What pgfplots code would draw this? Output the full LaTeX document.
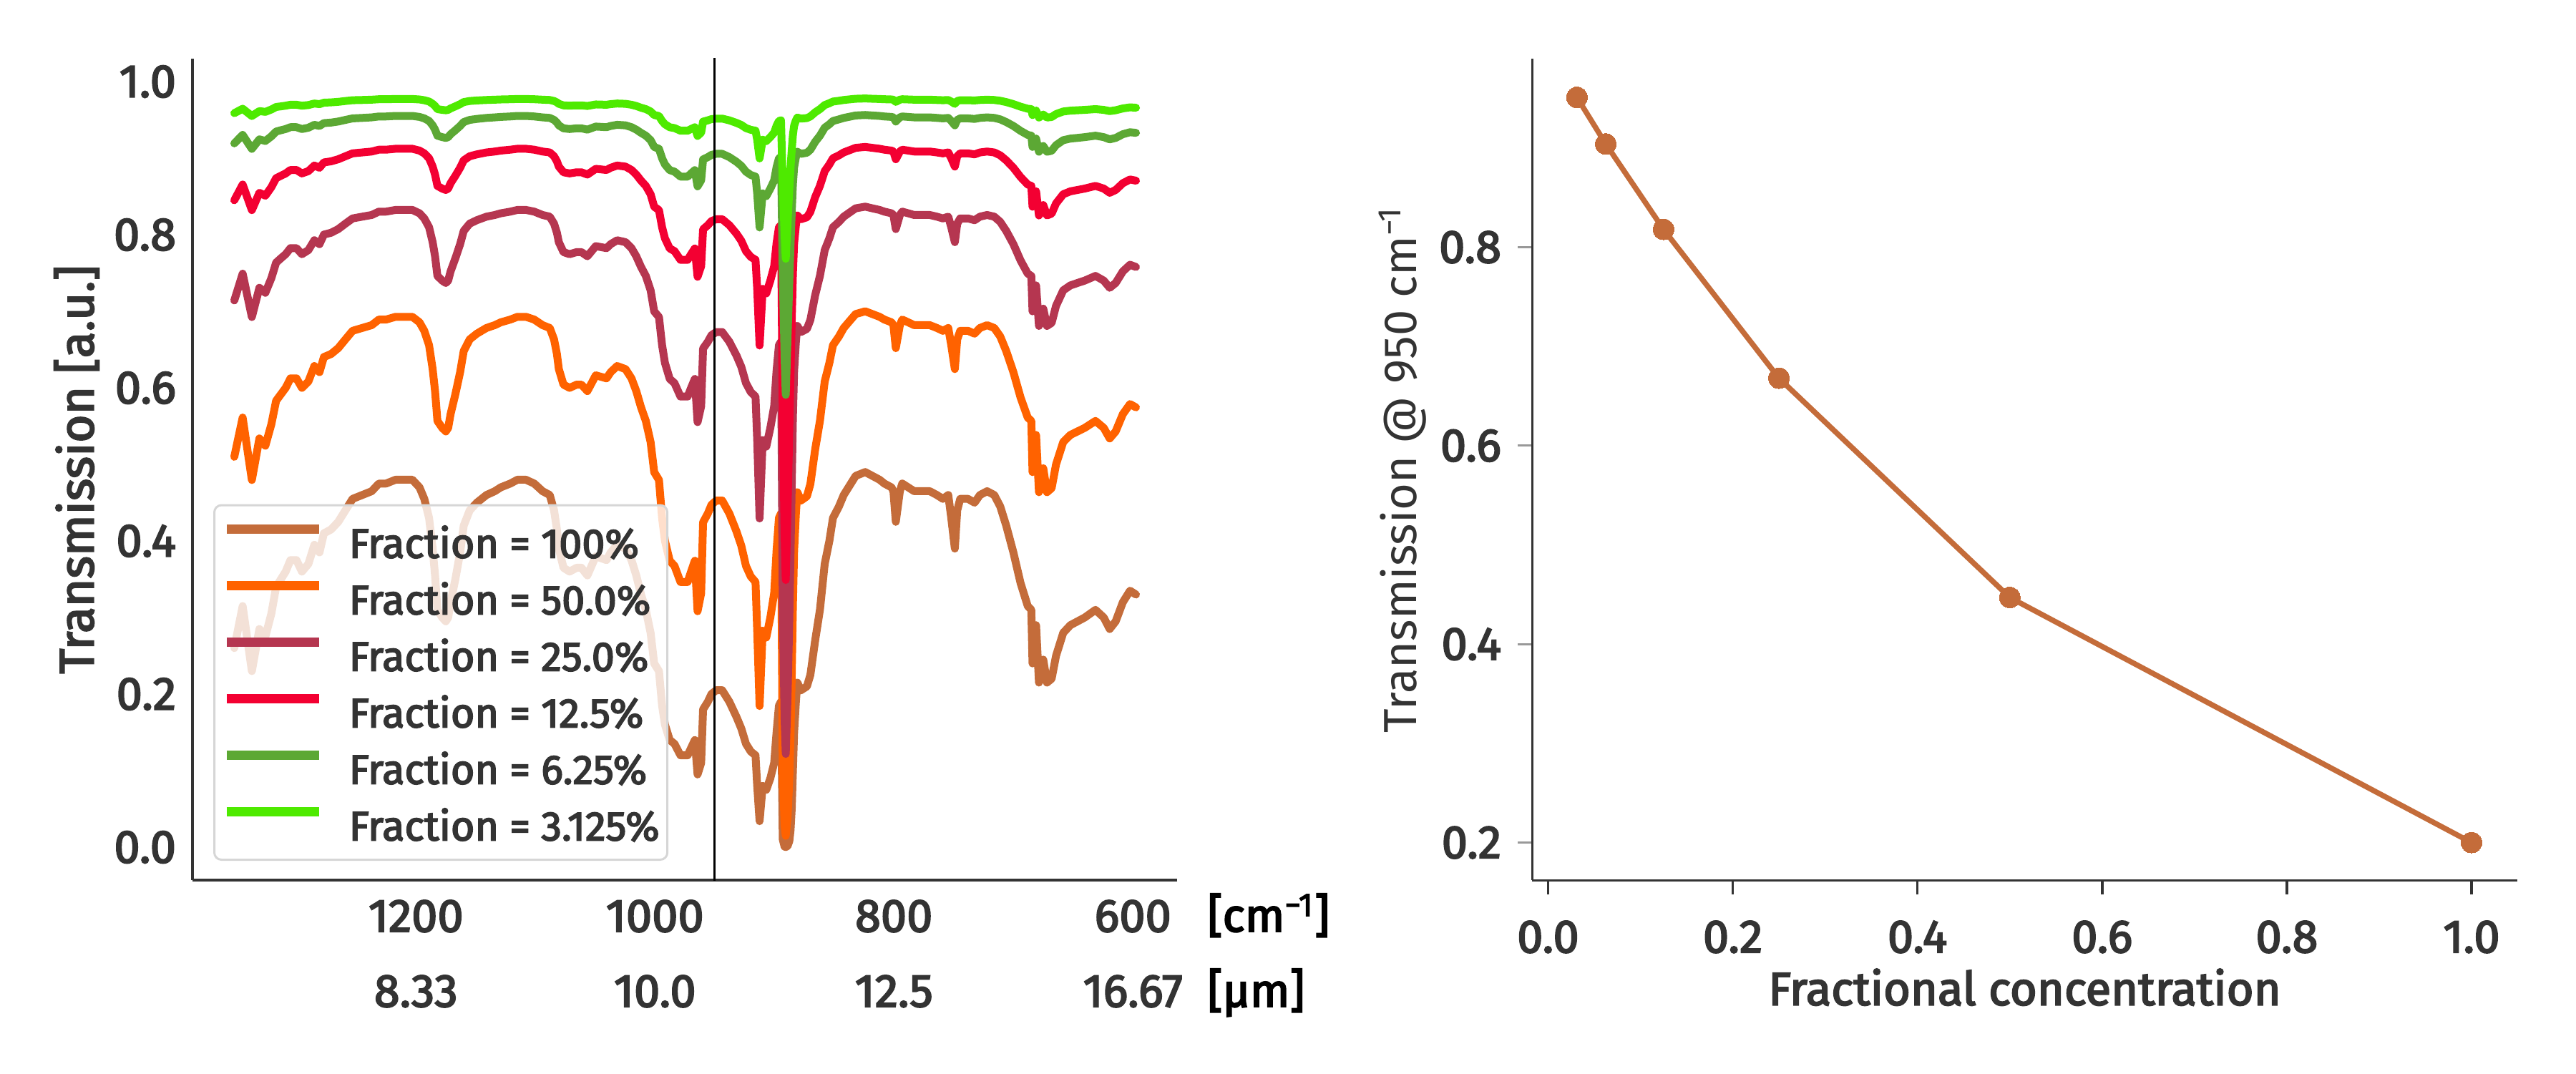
\documentclass[border=0pt]{standalone}
\usepackage{fontspec}
\setmainfont{Fira Sans}[FakeBold=3]
\newfontfamily\regfont{Fira Sans}
\usepackage{pgfplots}
\usepackage{pgfplotstable}
\pgfplotsset{compat=1.18}

\definecolor{c100}{HTML}{C46C3A}
\definecolor{c50}{HTML}{FF6200}
\definecolor{c25}{HTML}{B53650}
\definecolor{c12}{HTML}{F30032}
\definecolor{c6}{HTML}{5CA834}
\definecolor{c3}{HTML}{4EEA00}
\definecolor{txt}{HTML}{333333}

\pgfplotstableread{
w t100 t50 t25 t12 t6 t3
1352.0 0.260 0.5099 0.7141 0.8450 0.9193 0.9588
1345.0 0.315 0.5612 0.7492 0.8656 0.9304 0.9646
1337.3 0.230 0.4796 0.6925 0.8322 0.9122 0.9551
1331.0 0.285 0.5339 0.7307 0.8548 0.9246 0.9615
1326.0 0.275 0.5244 0.7242 0.8510 0.9225 0.9605
1321.0 0.305 0.5523 0.7432 0.8621 0.9285 0.9636
1317.0 0.340 0.5831 0.7636 0.8739 0.9348 0.9669
1313.0 0.350 0.5916 0.7692 0.8770 0.9365 0.9677
1309.0 0.360 0.6000 0.7746 0.8801 0.9381 0.9686
1305.0 0.375 0.6124 0.7825 0.8846 0.9405 0.9698
1300.0 0.375 0.6124 0.7825 0.8846 0.9405 0.9698
1295.4 0.360 0.6000 0.7746 0.8801 0.9381 0.9686
1290.0 0.370 0.6083 0.7799 0.8831 0.9398 0.9694
1285.0 0.395 0.6285 0.7928 0.8904 0.9436 0.9714
1280.7 0.385 0.6205 0.7877 0.8875 0.9421 0.9706
1277.0 0.410 0.6403 0.8002 0.8945 0.9458 0.9725
1271.0 0.415 0.6442 0.8026 0.8959 0.9465 0.9729
1265.0 0.425 0.6519 0.8074 0.8986 0.9479 0.9736
1259.0 0.440 0.6633 0.8145 0.9025 0.9500 0.9747
1253.0 0.455 0.6745 0.8213 0.9063 0.9520 0.9757
1245.0 0.460 0.6782 0.8236 0.9075 0.9526 0.9760
1237.0 0.465 0.6819 0.8258 0.9087 0.9533 0.9764
1231.0 0.475 0.6892 0.8302 0.9111 0.9545 0.9770
1225.0 0.475 0.6892 0.8302 0.9111 0.9545 0.9770
1217.0 0.480 0.6928 0.8324 0.9123 0.9552 0.9773
1209.0 0.480 0.6928 0.8324 0.9123 0.9552 0.9773
1203.0 0.480 0.6928 0.8324 0.9123 0.9552 0.9773
1197.0 0.470 0.6856 0.8280 0.9099 0.9539 0.9767
1193.0 0.455 0.6745 0.8213 0.9063 0.9520 0.9757
1189.0 0.430 0.6557 0.8098 0.8999 0.9486 0.9740
1186.0 0.390 0.6245 0.7903 0.8890 0.9429 0.9710
1184.0 0.355 0.5958 0.7719 0.8786 0.9373 0.9682
1182.0 0.310 0.5568 0.7462 0.8638 0.9294 0.9641
1178.0 0.300 0.5477 0.7401 0.8603 0.9275 0.9631
1175.0 0.295 0.5431 0.7370 0.8585 0.9265 0.9626
1173.0 0.300 0.5477 0.7401 0.8603 0.9275 0.9631
1171.0 0.320 0.5657 0.7521 0.8673 0.9313 0.9650
1167.0 0.350 0.5916 0.7692 0.8770 0.9365 0.9677
1163.0 0.385 0.6205 0.7877 0.8875 0.9421 0.9706
1160.0 0.420 0.6481 0.8050 0.8972 0.9472 0.9733
1155.0 0.440 0.6633 0.8145 0.9025 0.9500 0.9747
1149.0 0.450 0.6708 0.8190 0.9050 0.9513 0.9754
1141.0 0.460 0.6782 0.8236 0.9075 0.9526 0.9760
1134.0 0.465 0.6819 0.8258 0.9087 0.9533 0.9764
1129.0 0.470 0.6856 0.8280 0.9099 0.9539 0.9767
1121.0 0.475 0.6892 0.8302 0.9111 0.9545 0.9770
1115.0 0.480 0.6928 0.8324 0.9123 0.9552 0.9773
1108.0 0.480 0.6928 0.8324 0.9123 0.9552 0.9773
1101.0 0.475 0.6892 0.8302 0.9111 0.9545 0.9770
1094.0 0.465 0.6819 0.8258 0.9087 0.9533 0.9764
1088.0 0.460 0.6782 0.8236 0.9075 0.9526 0.9760
1084.4 0.440 0.6633 0.8145 0.9025 0.9500 0.9747
1082.0 0.415 0.6442 0.8026 0.8959 0.9465 0.9729
1080.4 0.390 0.6245 0.7903 0.8890 0.9429 0.9710
1076.5 0.365 0.6042 0.7773 0.8816 0.9390 0.9690
1071.4 0.360 0.6000 0.7746 0.8801 0.9381 0.9686
1065.5 0.365 0.6042 0.7773 0.8816 0.9390 0.9690
1061.5 0.365 0.6042 0.7773 0.8816 0.9390 0.9690
1056.5 0.355 0.5958 0.7719 0.8786 0.9373 0.9682
1049.5 0.380 0.6164 0.7851 0.8861 0.9413 0.9702
1040.5 0.375 0.6124 0.7825 0.8846 0.9405 0.9698
1037.0 0.385 0.6205 0.7877 0.8875 0.9421 0.9706
1031.6 0.395 0.6285 0.7928 0.8904 0.9436 0.9714
1024.6 0.390 0.6245 0.7903 0.8890 0.9429 0.9710
1019.6 0.375 0.6124 0.7825 0.8846 0.9405 0.9698
1015.6 0.355 0.5958 0.7719 0.8786 0.9373 0.9682
1011.6 0.330 0.5745 0.7579 0.8706 0.9331 0.9659
1007.6 0.310 0.5568 0.7462 0.8638 0.9294 0.9641
1003.6 0.280 0.5292 0.7274 0.8529 0.9235 0.9610
1000.6 0.240 0.4899 0.6999 0.8366 0.9147 0.9564
996.6 0.230 0.4796 0.6925 0.8322 0.9122 0.9551
994.0 0.185 0.4301 0.6558 0.8098 0.8999 0.9486
991.6 0.160 0.4000 0.6325 0.7953 0.8918 0.9443
987.6 0.140 0.3742 0.6117 0.7821 0.8844 0.9404
983.6 0.135 0.3674 0.6062 0.7786 0.8824 0.9393
978.6 0.120 0.3464 0.5886 0.7672 0.8759 0.9359
972.6 0.120 0.3464 0.5886 0.7672 0.8759 0.9359
969.6 0.130 0.3606 0.6005 0.7749 0.8803 0.9382
966.6 0.140 0.3742 0.6117 0.7821 0.8844 0.9404
964.3 0.095 0.3082 0.5552 0.7451 0.8632 0.9291
961.3 0.110 0.3317 0.5759 0.7589 0.8711 0.9334
959.7 0.180 0.4243 0.6514 0.8071 0.8984 0.9478
955.7 0.190 0.4359 0.6602 0.8125 0.9014 0.9494
952.7 0.200 0.4472 0.6687 0.8178 0.9043 0.9510
948.7 0.205 0.4528 0.6729 0.8203 0.9057 0.9517
943.7 0.205 0.4528 0.6729 0.8203 0.9057 0.9517
937.7 0.190 0.4359 0.6602 0.8125 0.9014 0.9494
931.7 0.170 0.4123 0.6421 0.8013 0.8952 0.9461
927.7 0.155 0.3937 0.6275 0.7921 0.8900 0.9434
923.8 0.135 0.3674 0.6062 0.7786 0.8824 0.9393
919.8 0.125 0.3536 0.5946 0.7711 0.8781 0.9371
915.8 0.120 0.3464 0.5886 0.7672 0.8759 0.9359
914.4 0.080 0.2828 0.5318 0.7293 0.8540 0.9241
912.4 0.034 0.1844 0.4294 0.6553 0.8095 0.8997
909.8 0.080 0.2828 0.5318 0.7293 0.8540 0.9241
906.8 0.075 0.2739 0.5233 0.7234 0.8505 0.9223
903.4 0.090 0.3000 0.5477 0.7401 0.8603 0.9275
900.2 0.110 0.3317 0.5759 0.7589 0.8711 0.9334
898.2 0.150 0.3873 0.6223 0.7889 0.8882 0.9424
896.2 0.185 0.4301 0.6558 0.8098 0.8999 0.9486
894.5 0.190 0.4359 0.6602 0.8125 0.9014 0.9494
893.0 0.010 0.1000 0.3162 0.5623 0.7499 0.8660
891.5 0.0008 0.0283 0.1682 0.4101 0.6404 0.8002
890.5 0.00022 0.0148 0.1218 0.3490 0.5908 0.7686
889.0 0.0015 0.0387 0.1968 0.4436 0.6661 0.8161
887.5 0.008 0.0894 0.2991 0.5469 0.7395 0.8600
886.5 0.022 0.1483 0.3851 0.6206 0.7878 0.8876
885.5 0.050 0.2236 0.4729 0.6877 0.8293 0.9106
884.5 0.100 0.3162 0.5623 0.7499 0.8660 0.9306
883.5 0.150 0.3873 0.6223 0.7889 0.8882 0.9424
882.0 0.190 0.4359 0.6602 0.8125 0.9014 0.9494
880.8 0.215 0.4637 0.6809 0.8252 0.9084 0.9531
877.8 0.205 0.4528 0.6729 0.8203 0.9057 0.9517
872.8 0.210 0.4583 0.6770 0.8228 0.9071 0.9524
869.9 0.225 0.4743 0.6887 0.8299 0.9110 0.9545
865.9 0.270 0.5196 0.7209 0.8490 0.9214 0.9599
861.9 0.310 0.5568 0.7462 0.8638 0.9294 0.9641
857.9 0.370 0.6083 0.7799 0.8831 0.9398 0.9694
854.0 0.400 0.6325 0.7953 0.8918 0.9443 0.9718
851.0 0.430 0.6557 0.8098 0.8999 0.9486 0.9740
846.0 0.445 0.6671 0.8168 0.9037 0.9507 0.9750
842.0 0.460 0.6782 0.8236 0.9075 0.9526 0.9760
836.0 0.475 0.6892 0.8302 0.9111 0.9545 0.9770
832.0 0.485 0.6964 0.8345 0.9135 0.9558 0.9776
824.0 0.490 0.7000 0.8367 0.9147 0.9564 0.9780
818.0 0.485 0.6964 0.8345 0.9135 0.9558 0.9776
812.0 0.480 0.6928 0.8324 0.9123 0.9552 0.9773
808.0 0.475 0.6892 0.8302 0.9111 0.9545 0.9770
802.0 0.470 0.6856 0.8280 0.9099 0.9539 0.9767
800.4 0.465 0.6819 0.8258 0.9087 0.9533 0.9764
798.4 0.425 0.6519 0.8074 0.8986 0.9479 0.9736
795.0 0.465 0.6819 0.8258 0.9087 0.9533 0.9764
793.0 0.475 0.6892 0.8302 0.9111 0.9545 0.9770
788.0 0.470 0.6856 0.8280 0.9099 0.9539 0.9767
783.0 0.465 0.6819 0.8258 0.9087 0.9533 0.9764
776.0 0.465 0.6819 0.8258 0.9087 0.9533 0.9764
770.0 0.465 0.6819 0.8258 0.9087 0.9533 0.9764
764.0 0.460 0.6782 0.8236 0.9075 0.9526 0.9760
759.0 0.455 0.6745 0.8213 0.9063 0.9520 0.9757
754.5 0.460 0.6782 0.8236 0.9075 0.9526 0.9760
752.0 0.430 0.6557 0.8098 0.8999 0.9486 0.9740
749.0 0.390 0.6245 0.7903 0.8890 0.9429 0.9710
747.0 0.440 0.6633 0.8145 0.9025 0.9500 0.9747
744.5 0.455 0.6745 0.8213 0.9063 0.9520 0.9757
738.0 0.455 0.6745 0.8213 0.9063 0.9520 0.9757
732.5 0.450 0.6708 0.8190 0.9050 0.9513 0.9754
728.0 0.460 0.6782 0.8236 0.9075 0.9526 0.9760
722.0 0.465 0.6819 0.8258 0.9087 0.9533 0.9764
716.0 0.460 0.6782 0.8236 0.9075 0.9526 0.9760
711.0 0.445 0.6671 0.8168 0.9037 0.9507 0.9750
706.0 0.420 0.6481 0.8050 0.8972 0.9472 0.9733
700.0 0.385 0.6205 0.7877 0.8875 0.9421 0.9706
694.0 0.345 0.5874 0.7664 0.8754 0.9357 0.9673
688.0 0.315 0.5612 0.7492 0.8656 0.9304 0.9646
685.0 0.310 0.5568 0.7462 0.8638 0.9294 0.9641
684.0 0.240 0.4899 0.6999 0.8366 0.9147 0.9564
681.0 0.290 0.5385 0.7338 0.8567 0.9256 0.9621
678.6 0.215 0.4637 0.6809 0.8252 0.9084 0.9531
675.0 0.245 0.4950 0.7035 0.8388 0.9159 0.9570
671.9 0.215 0.4637 0.6809 0.8252 0.9084 0.9531
668.0 0.220 0.4690 0.6849 0.8276 0.9097 0.9538
664.3 0.250 0.5000 0.7071 0.8409 0.9170 0.9576
658.3 0.280 0.5292 0.7274 0.8529 0.9235 0.9610
652.3 0.290 0.5385 0.7338 0.8567 0.9256 0.9621
646.3 0.295 0.5431 0.7370 0.8585 0.9265 0.9626
640.3 0.300 0.5477 0.7401 0.8603 0.9275 0.9631
631.3 0.310 0.5568 0.7462 0.8638 0.9294 0.9641
624.4 0.300 0.5477 0.7401 0.8603 0.9275 0.9631
619.4 0.285 0.5339 0.7307 0.8548 0.9246 0.9615
614.4 0.295 0.5431 0.7370 0.8585 0.9265 0.9626
608.4 0.320 0.5657 0.7521 0.8673 0.9313 0.9650
602.4 0.335 0.5788 0.7608 0.8722 0.9339 0.9664
597.4 0.330 0.5745 0.7579 0.8706 0.9331 0.9659
}\spec

\pgfplotstableread{
f t
0.03125 0.951
0.0625 0.904
0.125 0.818
0.25 0.668
0.5 0.447
1.0 0.200
}\conc

\newcommand{\tfont}{\fontsize{13}{15.6}\selectfont}

\begin{document}
\begin{tikzpicture}
\useasboundingbox (0,0) rectangle (720pt,300pt);

\begin{axis}[
  at={(53.8pt,54pt)}, anchor=south west,
  scale only axis, width=275.2pt, height=229.6pt,
  x dir=reverse, xmin=563, xmax=1387, ymin=-0.043, ymax=1.03,
  axis x line*=bottom, axis y line*=left,
  axis line style={draw=txt, line width=0.7pt, -},
  major tick length=0pt,
  xtick={1200,1000,800,600}, xticklabels={1200,1000,800,600},
  extra x ticks={1200,1000,800,600},
  extra x tick labels={8.33,10.0,12.5,16.67},
  extra x tick style={xticklabel style={yshift=-21pt}},
  ytick={0,0.2,0.4,0.6,0.8,1.0},
  tick label style={font=\tfont, text=txt},
  xticklabel style={anchor=north, inner sep=0pt, yshift=-5.4pt},
  yticklabel style={anchor=east, inner sep=0pt, xshift=-4.4pt,
    /pgf/number format/fixed, /pgf/number format/fixed zerofill,
    /pgf/number format/precision=1, /pgf/number format/assume math mode=true},
  ylabel={Transmission [a.u.]},
  ylabel style={at={(axis description cs:-0.1177,0.5)}, anchor=center, font=\fontsize{13.5}{16}\selectfont, text=txt},
  legend style={at={(axis description cs:0.0211,0.0235)}, anchor=south west,
    fill=white, fill opacity=0.8, draw opacity=1, text opacity=1,
    draw=black!16, line width=0.6pt, rounded corners=2pt,
    font=\fontsize{11.5}{13.8}\selectfont, text=txt,
    inner xsep=2.2pt, inner ysep=5.4pt, row sep=6.5pt,
    nodes={inner sep=0pt, text height=8.5pt, text depth=0pt},
    /tikz/every odd column/.append style={column sep=7.15pt}},
  legend cell align=left,
  legend image code/.code={\draw[#1, line width=2.5pt, line cap=butt] (0pt,3.8pt) -- (25.8pt,3.8pt);},
  every axis plot/.append style={line width=2.2pt, line join=round, line cap=round},
]
\addplot[c100] table[x=w,y=t100]{\spec};
\addlegendentry{Fraction = 100\%}
\addplot[c50] table[x=w,y=t50]{\spec};
\addlegendentry{Fraction = 50.0\%}
\addplot[c25] table[x=w,y=t25]{\spec};
\addlegendentry{Fraction = 25.0\%}
\addplot[c12] table[x=w,y=t12]{\spec};
\addlegendentry{Fraction = 12.5\%}
\addplot[c6] table[x=w,y=t6]{\spec};
\addlegendentry{Fraction = 6.25\%}
\addplot[c3] table[x=w,y=t3]{\spec};
\addlegendentry{Fraction = 3.125\%}
\addplot[black, line width=0.6pt, line cap=butt, forget plot] coordinates {(950,-0.06) (950,1.05)};
\end{axis}

\node[anchor=base west, font=\tfont, text=black] at (334pt,39.6pt) {[cm\textsuperscript{−1}]};
\node[anchor=base west, font=\tfont, text=black] at (334pt,18.6pt) {[µm]};

\begin{axis}[
  at={(428.2pt,54pt)}, anchor=south west,
  scale only axis, width=275.4pt, height=229.6pt,
  xmin=-0.0174, xmax=1.0496, ymin=0.1622, ymax=0.990,
  axis x line*=bottom, axis y line*=left,
  axis line style={draw=txt, line width=0.6pt, -},
  tick align=outside, major tick length=4pt,
  xtick={0,0.2,0.4,0.6,0.8,1.0}, ytick={0.2,0.4,0.6,0.8},
  xtick style={draw=txt, line width=0.7pt},
  ytick style={draw=black!40, line width=0.6pt},
  tick label style={font=\tfont, text=txt},
  xticklabel style={anchor=north, inner sep=0pt, yshift=-7.2pt,
    /pgf/number format/fixed, /pgf/number format/fixed zerofill,
    /pgf/number format/precision=1, /pgf/number format/assume math mode=true},
  yticklabel style={anchor=east, inner sep=0pt, xshift=-4.4pt,
    /pgf/number format/fixed, /pgf/number format/fixed zerofill,
    /pgf/number format/precision=1, /pgf/number format/assume math mode=true},
  xlabel={Fractional concentration},
  xlabel style={at={(axis description cs:0.5,-0.1304)}, anchor=center, font=\tfont, text=txt},
  ylabel={\regfont Transmission @ 950 cm\textsuperscript{−1}},
  ylabel style={at={(axis description cs:-0.1314,0.5)}, anchor=center, font=\tfont, text=txt},
]
\addplot[c100, line width=1.5pt, mark=*, mark size=2.9pt, mark options={fill=c100, draw=c100, line width=0pt}] table[x=f,y=t]{\conc};
\end{axis}
\end{tikzpicture}
\end{document}
